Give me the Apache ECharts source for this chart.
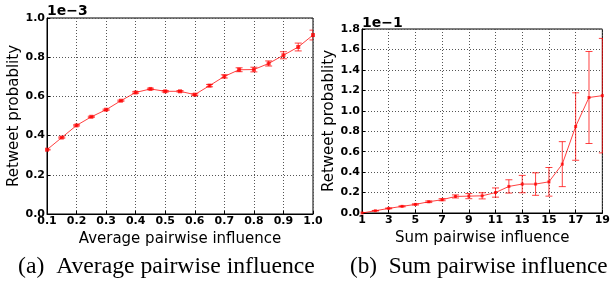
<!DOCTYPE html>
<html>
<head>
<meta charset="utf-8">
<script src="https://cdn.jsdelivr.net/npm/echarts@6/dist/echarts.min.js"></script>
<style>
  html, body { margin: 0; padding: 0; background: #fff; }
  #chart { width: 613px; height: 283px; }
</style>
</head>
<body>
<div id="chart"></div>
<script>
// (a) average pairwise influence, y in units of 1e-3
const avgX = [0.1, 0.15, 0.2, 0.25, 0.3, 0.35, 0.4, 0.45, 0.5, 0.55, 0.6, 0.65, 0.7, 0.75, 0.8, 0.85, 0.9, 0.95, 1.0];
const avgY = [0.328, 0.39, 0.452, 0.496, 0.532, 0.578, 0.62, 0.638, 0.626, 0.626, 0.609, 0.655, 0.702, 0.736, 0.737, 0.768, 0.81, 0.852, 0.913];
const avgErr = [0.002, 0.003, 0.003, 0.003, 0.003, 0.003, 0.004, 0.004, 0.004, 0.004, 0.004, 0.006, 0.008, 0.01, 0.012, 0.013, 0.018, 0.02, 0.025];

// (b) sum pairwise influence, y in units of 1e-1
const sumX = ['1', '2', '3', '4', '5', '6', '7', '8', '9', '10', '11', '12', '13', '14', '15', '16', '17', '18', '19'];
const sumY = [0, 0.022, 0.045, 0.065, 0.084, 0.11, 0.13, 0.162, 0.165, 0.168, 0.2, 0.26, 0.283, 0.283, 0.305, 0.478, 0.846, 1.13, 1.148];
const sumErr = [0, 0.003, 0.004, 0.005, 0.006, 0.008, 0.01, 0.015, 0.025, 0.03, 0.045, 0.065, 0.085, 0.11, 0.14, 0.22, 0.33, 0.45, 0.56];

const RED = 'rgba(255,0,0,0.75)';
const tickFont = { fontFamily: 'DejaVu Sans', fontWeight: 'bold', fontSize: 11, color: '#000' };
const nameFont = { fontFamily: 'DejaVu Sans', fontSize: 15, color: '#000' };
const gridLine = { show: true, lineStyle: { color: '#555', type: [1, 2], width: 1 } };

function errorBars(params, api) {
  const x = api.value(0);
  const top = api.coord([x, api.value(2)]);
  const bot = api.coord([x, api.value(1)]);
  const w = 3.5;
  const style = { stroke: RED, lineWidth: 1 };
  return {
    type: 'group',
    children: [
      { type: 'line', shape: { x1: top[0], y1: top[1], x2: bot[0], y2: bot[1] }, style },
      { type: 'line', shape: { x1: top[0] - w, y1: top[1], x2: top[0] + w, y2: top[1] }, style },
      { type: 'line', shape: { x1: bot[0] - w, y1: bot[1], x2: bot[0] + w, y2: bot[1] }, style }
    ]
  };
}

const chart = echarts.init(document.getElementById('chart'), null, { renderer: 'canvas' });

chart.setOption({
  animation: false,
  backgroundColor: '#fff',
  grid: [
    { left: 47, top: 18, width: 266, height: 196, show: true, borderColor: '#000', borderWidth: 1 },
    { left: 362, top: 29, width: 245, height: 184, show: true, borderColor: '#000', borderWidth: 1 }
  ],
  xAxis: [
    {
      gridIndex: 0, type: 'value', min: 0.1, max: 1.0, interval: 0.1,
      name: 'Average pairwise influence', nameLocation: 'middle', nameGap: 13, nameTextStyle: nameFont,
      axisLine: { lineStyle: { color: '#000' } },
      axisTick: { inside: true, length: 3, lineStyle: { color: '#000' } },
      axisLabel: Object.assign({ margin: 2, formatter: v => v.toFixed(1) }, tickFont),
      splitLine: gridLine
    },
    {
      gridIndex: 1, type: 'category', data: sumX, boundaryGap: false,
      name: 'Sum pairwise influence', nameLocation: 'middle', nameGap: 11.5, nameTextStyle: nameFont,
      axisLine: { lineStyle: { color: '#000' } },
      axisTick: { inside: true, length: 3, interval: 1, lineStyle: { color: '#000' } },
      axisLabel: Object.assign({ margin: 2, interval: 1 }, tickFont),
      splitLine: Object.assign({ interval: 1 }, gridLine)
    }
  ],
  yAxis: [
    {
      gridIndex: 0, type: 'value', min: 0, max: 1.0, interval: 0.2,
      name: 'Retweet probablity', nameLocation: 'middle', nameGap: 20, nameTextStyle: nameFont,
      axisLine: { show: true, lineStyle: { color: '#000' } },
      axisTick: { show: true, inside: true, length: 3, lineStyle: { color: '#000' } },
      axisLabel: Object.assign({ margin: 2, formatter: v => v.toFixed(1) }, tickFont),
      splitLine: gridLine
    },
    {
      gridIndex: 1, type: 'value', min: 0, max: 1.8, interval: 0.2,
      name: 'Retweet probablity', nameLocation: 'middle', nameGap: 19, nameTextStyle: nameFont,
      axisLine: { show: true, lineStyle: { color: '#000' } },
      axisTick: { show: true, inside: true, length: 3, lineStyle: { color: '#000' } },
      axisLabel: Object.assign({ margin: 2, formatter: v => v.toFixed(1) }, tickFont),
      splitLine: gridLine
    }
  ],
  series: [
    {
      type: 'line', xAxisIndex: 0, yAxisIndex: 0,
      data: avgX.map((x, i) => [x, avgY[i]]),
      symbol: 'rect', symbolSize: 4,
      lineStyle: { color: RED, width: 1 }, itemStyle: { color: RED }
    },
    {
      type: 'custom', xAxisIndex: 0, yAxisIndex: 0, clip: true,
      data: avgX.map((x, i) => [x, avgY[i] - avgErr[i], avgY[i] + avgErr[i]]),
      renderItem: errorBars
    },
    {
      type: 'line', xAxisIndex: 1, yAxisIndex: 1,
      data: sumY,
      symbol: 'rect', symbolSize: 3,
      lineStyle: { color: RED, width: 1 }, itemStyle: { color: RED }
    },
    {
      type: 'custom', xAxisIndex: 1, yAxisIndex: 1, clip: true,
      data: sumX.map((x, i) => [i, sumY[i] - sumErr[i], sumY[i] + sumErr[i]]),
      renderItem: errorBars
    }
  ],
  graphic: [
    { type: 'text', left: 47, top: 4, style: { text: '1e\u22123', font: 'bold 14px "DejaVu Sans"', fill: '#000' } },
    { type: 'text', left: 362, top: 16, style: { text: '1e\u22121', font: 'bold 14px "DejaVu Sans"', fill: '#000' } },
    { type: 'text', left: 18, top: 255, style: { text: '(a)\u00a0 Average pairwise influence', font: '23.7px "Liberation Serif"', fill: '#000' } },
    { type: 'text', left: 350, top: 255, style: { text: '(b)\u00a0 Sum pairwise influence', font: '23.2px "Liberation Serif"', fill: '#000' } }
  ]
});
</script>
</body>
</html>
